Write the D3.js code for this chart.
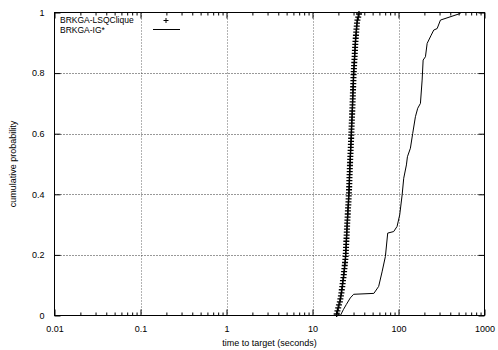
<!DOCTYPE html>
<html><head><meta charset="utf-8">
<script src="https://cdn.jsdelivr.net/npm/d3@7"></script>
<style>body{margin:0;background:#fff}svg{display:block}text{font-family:"Liberation Sans",Arial,sans-serif;fill:#000}</style>
</head><body><svg id="c" width="498" height="350"></svg>
<script>
// ---- data ----
const seriesNames = ["BRKGA-LSQClique", "BRKGA-IG*"];
const xTickValues = [0.01, 0.1, 1, 10, 100, 1000];
const xTickLabels = ["0.01", "0.1", "1", "10", "100", "1000"];
const yTickValues = [0, 0.2, 0.4, 0.6, 0.8, 1];
const yTickLabels = ["0", "0.2", "0.4", "0.6", "0.8", "1"];
const xLabel = "time to target (seconds)";
const yLabel = "cumulative probability";
// BRKGA-LSQClique: sorted run times (s), plotted at empirical probability (i-0.5)/n
const lsqTimes = [19.1,19.5,19.9,20.3,20.8,21.1,21.4,21.7,21.9,22.2,
 22.4,22.6,22.9,23.1,23.3,23.5,23.7,23.9,24.1,24.25,
 24.35,24.45,24.55,24.65,24.75,24.85,24.95,25.05,25.15,25.25,
 25.35,25.46,25.6,25.7,25.8,25.9,26.1,26.2,26.3,26.4,
 26.54,26.6,26.7,26.8,26.85,26.9,27.0,27.1,27.15,27.25,
 27.35,27.45,27.55,27.65,27.75,27.85,27.95,28.05,28.15,28.25,
 28.35,28.4,28.5,28.6,28.7,28.8,28.9,29.0,29.1,29.2,
 29.25,29.35,29.45,29.5,29.6,29.7,29.8,29.9,29.95,30.05,
 30.17,30.3,30.45,30.6,30.75,30.9,31.0,31.15,31.3,31.45,
 31.6,31.8,32.0,32.25,32.45,32.7,32.9,33.3,34.0,34.7];
// BRKGA-IG*: polyline points (time, cumulative probability)
const igTimes = [21.1,22.8,24.7,27.5,30.1,51.7,58.8,64.4,70.4,74.9,87.9,96.3,103.3,110.2,115.0,123.6,127,137.5,146.3,157.3,167.3,179.9,188.3,193.4,205.7,215.3,239.7,256.9,281.5,307.5,525.6];
const igProbs = [0,0.019,0.036,0.058,0.070,0.073,0.096,0.144,0.195,0.272,0.277,0.294,0.332,0.398,0.453,0.497,0.524,0.552,0.601,0.656,0.684,0.700,0.777,0.843,0.854,0.898,0.925,0.942,0.947,0.975,0.997];

// ---- layout ----
const L = 54.5, R = 484.5, T = 12.5, B = 315.5;
const svg = d3.select("#c");
const x = d3.scaleLog().domain([0.01, 1000]).range([L, R]);
const y = d3.scaleLinear().domain([0, 1]).range([B, T]);

// grid
const g = svg.append("g");
g.selectAll("line.gx").data(xTickValues.slice(1, -1)).join("line")
  .attr("x1", d => Math.round(x(d)) + 0.5).attr("x2", d => Math.round(x(d)) + 0.5)
  .attr("y1", T).attr("y2", B).attr("stroke", "#666").attr("stroke-dasharray", "1,2");
g.selectAll("line.gy").data(yTickValues.slice(1, -1)).join("line")
  .attr("y1", d => Math.round(y(d)) + 0.5).attr("y2", d => Math.round(y(d)) + 0.5)
  .attr("x1", L).attr("x2", R).attr("stroke", "#333").attr("stroke-dasharray", "1,2");

// minor ticks
const minor = [];
for (let e = -2; e < 3; e++) for (let m = 2; m <= 9; m++) minor.push(m * Math.pow(10, e));
const xAxisB = d3.axisBottom(x).tickValues(xTickValues).tickFormat((d, i) => xTickLabels[i]).tickSizeInner(-6).tickSizeOuter(0).tickPadding(10);
const xAxisT = d3.axisTop(x).tickValues(xTickValues).tickFormat("").tickSizeInner(-6).tickSizeOuter(0);
const yAxisL = d3.axisLeft(y).tickValues(yTickValues).tickFormat((d, i) => yTickLabels[i]).tickSizeInner(-6).tickSizeOuter(0).tickPadding(10);
const yAxisR = d3.axisRight(y).tickValues(yTickValues).tickFormat("").tickSizeInner(-6).tickSizeOuter(0);
const mB = d3.axisBottom(x).tickValues(minor).tickFormat("").tickSizeInner(-3).tickSizeOuter(0);
const mT = d3.axisTop(x).tickValues(minor).tickFormat("").tickSizeInner(-3).tickSizeOuter(0);

function style(sel) {
  sel.select(".domain").remove();
  sel.selectAll("line").attr("stroke", "#000");
  sel.selectAll("text").attr("font-size", 9).attr("font-family", "Liberation Sans, Arial, sans-serif");
}
svg.append("g").attr("transform", `translate(0,${B})`).call(xAxisB).call(style);
svg.append("g").attr("transform", `translate(0,${T})`).call(xAxisT).call(style);
svg.append("g").attr("transform", `translate(0,${B})`).call(mB).call(style);
svg.append("g").attr("transform", `translate(0,${T})`).call(mT).call(style);
svg.append("g").attr("transform", `translate(${L},0)`).call(yAxisL).call(style);
svg.append("g").attr("transform", `translate(${R},0)`).call(yAxisR).call(style);

// border
svg.append("rect").attr("x", L).attr("y", T).attr("width", R - L).attr("height", B - T)
  .attr("fill", "none").attr("stroke", "#000").attr("stroke-width", 1);

// IG* line
const igPts = igTimes.map((t, i) => [t, igProbs[i]]);
svg.append("path").datum(igPts)
  .attr("d", d3.line().x(d => x(d[0])).y(d => y(d[1])))
  .attr("fill", "none").attr("stroke", "#000").attr("stroke-width", 1);

// LSQClique + markers
const n = lsqTimes.length;
const lsqPts = lsqTimes.map((t, i) => [t, (i + 0.5) / n]);
const plusD = "M-3,0H3M0,-3V3";
svg.append("g").selectAll("path").data(lsqPts).join("path")
  .attr("transform", d => `translate(${x(d[0])},${y(d[1])})`)
  .attr("d", plusD).attr("stroke", "#000").attr("stroke-width", 1.3).attr("fill", "none");

// labels
svg.append("text").attr("x", (L + R) / 2).attr("y", 346).attr("text-anchor", "middle").attr("font-size", 9).text(xLabel);
svg.append("text").attr("transform", `translate(16,${(T + B) / 2}) rotate(-90)`).attr("text-anchor", "middle").attr("font-size", 9).text(yLabel);

// legend
const leg = svg.append("g");
leg.append("text").attr("x", 60).attr("y", 23).attr("font-size", 8.5).text(seriesNames[0]);
leg.append("text").attr("x", 60).attr("y", 32.5).attr("font-size", 8.5).text(seriesNames[1]);
leg.append("path").attr("transform", "translate(166,20.5)").attr("d", "M-2.5,0H2.5M0,-2.5V2.5").attr("stroke", "#000").attr("fill", "none");
leg.append("line").attr("x1", 153).attr("x2", 180).attr("y1", 29.5).attr("y2", 29.5).attr("stroke", "#000");
</script></body></html>
